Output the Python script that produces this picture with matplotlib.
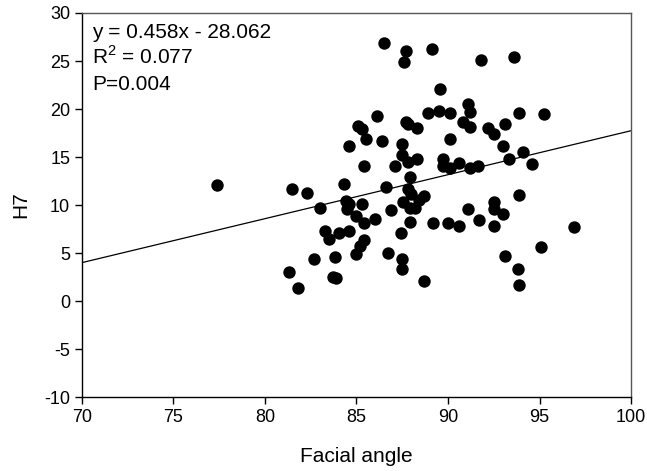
import matplotlib
matplotlib.use("Agg")
import matplotlib.pyplot as plt
import numpy as np

# Facial angle (x) vs H7 (y)
facial_angle = [
    77.4, 81.5, 82.3, 83.0, 81.3, 81.8, 82.7, 83.3, 83.5, 84.05,
    84.6, 83.8, 83.7, 83.9, 85.0, 85.2, 85.4, 86.7, 87.45, 87.5,
    87.5, 88.7, 93.1, 93.8, 93.9, 95.1, 96.9, 86.5, 87.7, 87.6,
    89.1, 91.8, 93.6, 89.55, 88.9, 89.5, 90.1, 91.1, 91.2, 93.9,
    95.25, 86.1, 85.1, 85.3, 87.7, 87.8, 88.3, 90.8, 91.2, 92.2,
    92.5, 93.1, 84.6, 85.5, 86.4, 87.5, 90.1, 93.0, 87.5, 87.8,
    88.3, 87.1, 85.4, 89.7, 89.7, 90.1, 90.6, 91.2, 91.65, 93.35,
    94.1, 94.6, 87.9, 84.3, 86.6, 87.8, 88.0, 88.4, 88.7, 87.55,
    87.9, 88.2, 84.4, 84.6, 84.5, 85.3, 85.0, 85.4, 86.0, 86.9,
    87.9, 89.2, 90.0, 90.6, 91.1, 91.7, 92.5, 92.5, 93.0, 92.5,
    93.9,
]
h7 = [
    12.1, 11.7, 11.25, 9.7, 3.05, 1.4, 4.4, 7.3, 6.45, 7.1,
    7.3, 4.6, 2.5, 2.4, 4.9, 5.7, 6.4, 5.0, 7.1, 4.4,
    3.35, 2.1, 4.7, 3.3, 1.7, 5.6, 7.7, 26.9, 26.0, 24.9,
    26.3, 25.1, 25.45, 22.05, 19.6, 19.8, 19.55, 20.5, 19.7, 19.55,
    19.45, 19.3, 18.2, 17.9, 18.6, 18.4, 18.0, 18.6, 18.15, 18.05,
    17.35, 18.4, 16.15, 16.85, 16.65, 16.35, 16.85, 16.1, 15.25, 14.5,
    14.75, 14.1, 14.1, 14.8, 14.05, 13.85, 14.35, 13.9, 14.1, 14.8,
    15.55, 14.25, 12.95, 12.15, 11.85, 11.7, 11.1, 10.5, 10.9, 10.35,
    9.7, 9.65, 10.45, 10.1, 9.6, 10.1, 8.85, 8.15, 8.55, 9.45,
    8.25, 8.15, 8.15, 7.85, 9.55, 8.45, 10.35, 9.55, 9.1, 7.85,
    11.05,
]

slope, intercept = 0.458, -28.062
fit_text = ["y = 0.458x - 28.062", "R$^2$ = 0.077", "P=0.004"]

plt.rcParams["font.family"] = ["Liberation Sans", "DejaVu Sans"]
plt.rcParams["axes.unicode_minus"] = False
plt.rcParams["mathtext.fontset"] = "custom"
plt.rcParams["mathtext.rm"] = "Liberation Sans"

fig = plt.figure(figsize=(6.47, 4.71), dpi=100)
ax = fig.add_axes([0.1267, 0.1571, 0.8486, 0.8153])

ax.scatter(facial_angle, h7, s=80, color="black", zorder=3, linewidths=0)

xs = np.array([70, 100])
ax.plot(xs, slope * xs + intercept, color="black", linewidth=0.9, zorder=2)

ax.set_xlim(70, 100)
ax.set_ylim(-10, 30)
ax.set_xticks(range(70, 101, 5))
ax.set_yticks(range(-10, 31, 5))
ax.tick_params(direction="out", length=5, width=1, labelsize=13, colors="black")

for side in ("left", "bottom"):
    ax.spines[side].set_color("black")
    ax.spines[side].set_linewidth(1.0)
for side in ("top", "right"):
    ax.spines[side].set_color("#555555")
    ax.spines[side].set_linewidth(1.0)

ax.set_xlabel("Facial angle", fontsize=15, labelpad=15)
ax.set_ylabel("H7", fontsize=15, labelpad=10)

# baselines of the three annotation lines, in axes fraction
for i, line in enumerate(fit_text):
    ax.text(0.018, 0.935 - i * 0.068, line, transform=ax.transAxes,
            fontsize=15, va="baseline", ha="left")

fig.savefig("out.png", dpi=100)
